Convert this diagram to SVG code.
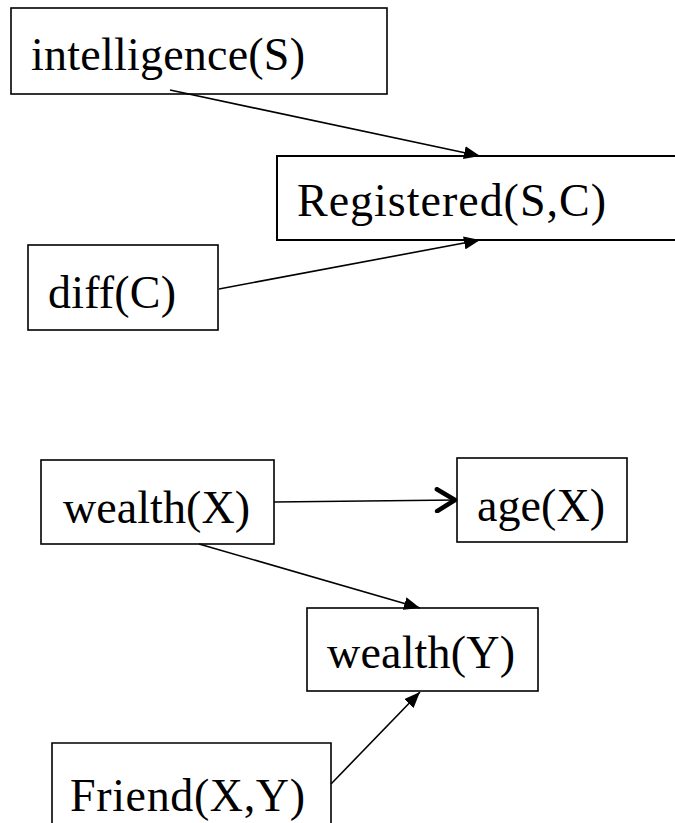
<svg xmlns="http://www.w3.org/2000/svg" width="675" height="823" viewBox="0 0 675 823">
  <style>
    .box { fill: #ffffff; stroke: #000000; stroke-width: 1.6; }
    .open { fill: none; stroke: #000000; stroke-width: 2; }
    .label { font-family: "Liberation Serif", "Times New Roman", serif; font-size: 46px; fill: #000000; }
    .edge { stroke: #000000; stroke-width: 1.6; fill: none; }
  </style>
  <defs>
    <marker id="tri" viewBox="0 0 16 13" refX="16" refY="6.5" markerWidth="16" markerHeight="13" markerUnits="userSpaceOnUse" orient="auto">
      <path d="M0,0 L16,6.5 L0,13 Z" fill="#000000"/>
    </marker>
    <marker id="chev" viewBox="0 0 24 26" refX="22" refY="13" markerWidth="24" markerHeight="26" markerUnits="userSpaceOnUse" orient="auto">
      <path d="M3,2 L21,13 L3,24" fill="none" stroke="#000000" stroke-width="4.5" stroke-linecap="round" stroke-linejoin="round"/>
    </marker>
  </defs>

  <rect width="675" height="823" fill="#ffffff"/>

  <g id="intelligence">
    <rect class="box" x="11" y="8" width="376" height="86"/>
    <text class="label" x="31" y="70" textLength="274">intelligence(S)</text>
  </g>

  <g id="registered">
    <path class="open" d="M675,156 H277 V240 H675"/>
    <text class="label" x="297" y="216" textLength="309">Registered(S,C)</text>
  </g>

  <g id="diff">
    <rect class="box" x="28" y="245" width="190" height="85"/>
    <text class="label" x="48" y="308" textLength="128">diff(C)</text>
  </g>

  <g id="wealthX">
    <rect class="box" x="41" y="460" width="233" height="84"/>
    <text class="label" x="63" y="523" textLength="187">wealth(X)</text>
  </g>

  <g id="ageX">
    <rect class="box" x="457" y="458" width="170" height="84"/>
    <text class="label" x="477" y="521" textLength="128">age(X)</text>
  </g>

  <g id="wealthY">
    <rect class="box" x="307" y="608" width="231" height="83"/>
    <text class="label" x="327" y="668" textLength="188">wealth(Y)</text>
  </g>

  <g id="friend">
    <path class="open" style="stroke-width:1.6" d="M52,823 V743 H331 V823"/>
    <text class="label" x="70" y="811" textLength="235">Friend(X,Y)</text>
  </g>

  <g id="connectors">
    <line class="edge" x1="170" y1="90" x2="480" y2="156" marker-end="url(#tri)"/>
    <line class="edge" x1="219" y1="289" x2="480" y2="240" marker-end="url(#tri)"/>
    <line class="edge" x1="274" y1="502" x2="456" y2="500" marker-end="url(#chev)"/>
    <line class="edge" x1="199" y1="544" x2="420" y2="608" marker-end="url(#tri)"/>
    <line class="edge" x1="331" y1="784" x2="420" y2="692" marker-end="url(#tri)"/>
  </g>
</svg>
